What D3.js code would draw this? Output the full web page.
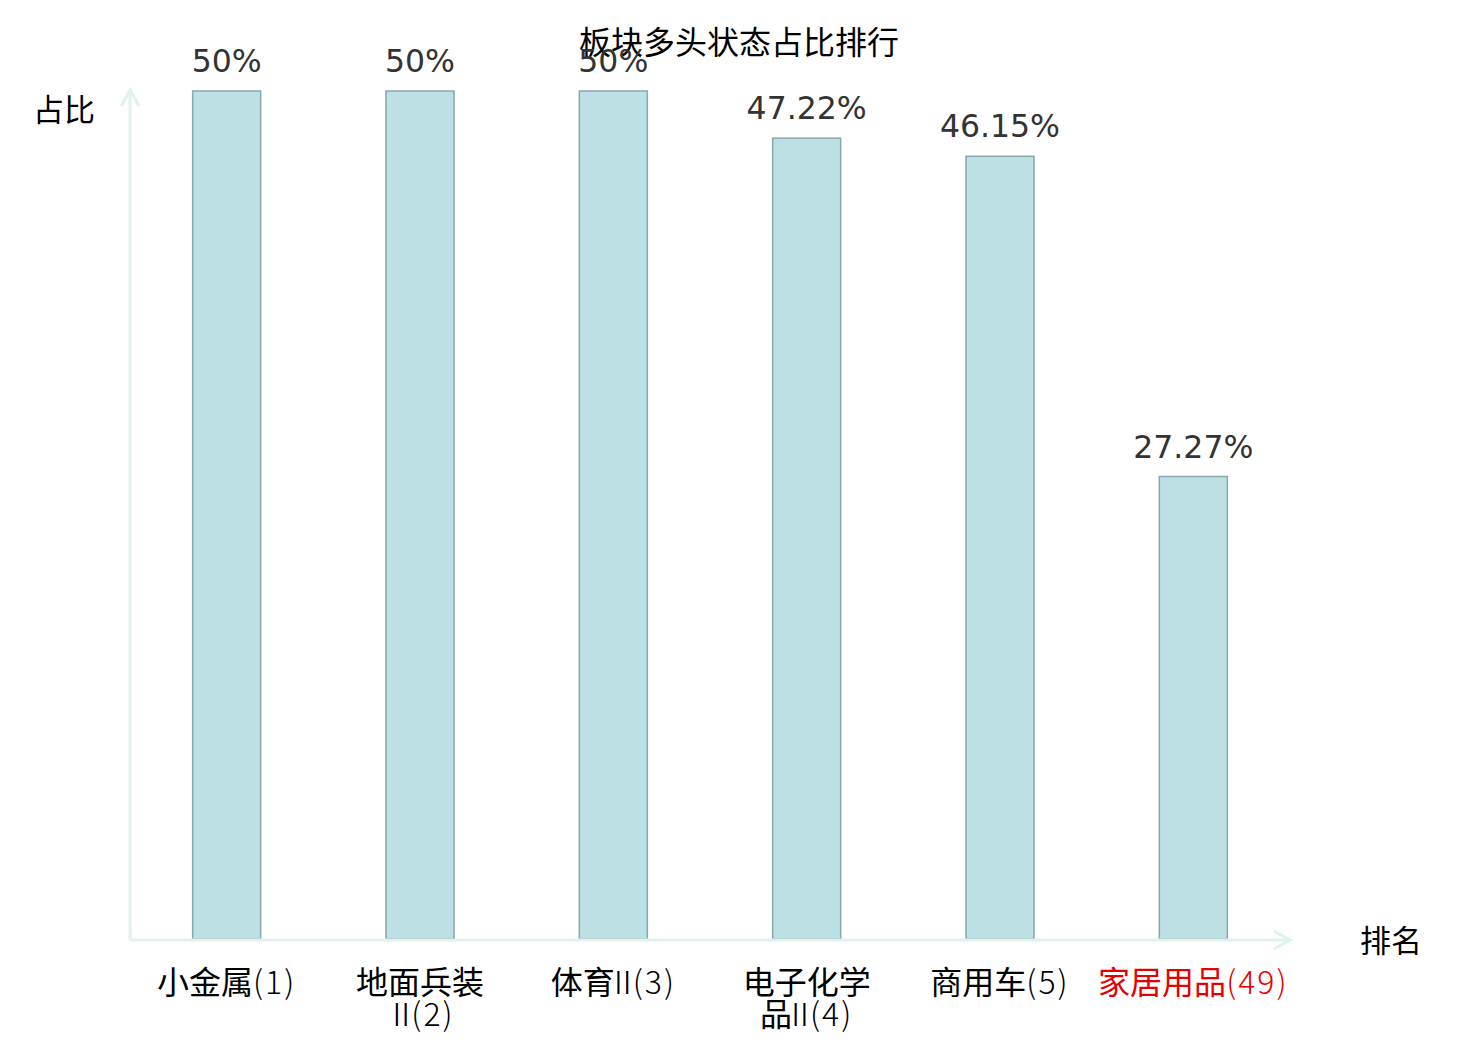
<!DOCTYPE html>
<html>
<head>
<meta charset="utf-8">
<title>板块多头状态占比排行</title>
<style>
body{ margin:0; background:#fff; }
#chart{ display:block; }
.axis-line{ stroke:#dff2ef; stroke-width:3; fill:none; }
.bar{ fill:#bce0e3; stroke:#88a8a9; stroke-width:1.5; }
.value{ font-family:"DejaVu Sans", sans-serif; font-size:31.5px; fill:#333; text-anchor:middle; }
.cat{ font-family:"Noto Sans CJK SC", sans-serif; font-size:32px; fill:#000; text-anchor:middle; }
.cat .thin{ font-weight:300; letter-spacing:2px; }
.cat .roman{ font-weight:300; letter-spacing:-6px; }
.cat.hl{ fill:#e60000; }
.title{ font-family:"Noto Sans CJK SC", sans-serif; font-size:32px; fill:#000; text-anchor:middle; }
.name{ font-family:"Noto Sans CJK SC", sans-serif; font-size:31px; fill:#000; }
</style>
</head>
<body>
<svg id="chart"></svg>
<script src="https://d3js.org/d3.v7.min.js"></script>
<script>
var names = ["小金属", "地面兵装Ⅱ", "体育Ⅱ", "电子化学品Ⅱ", "商用车", "家居用品"];
var ranks = [1, 2, 3, 4, 5, 49];
var values = [50, 50, 50, 47.22, 46.15, 27.27];
var valueLabels = ["50%", "50%", "50%", "47.22%", "46.15%", "27.27%"];
var highlight = "家居用品";

var W = 1480, H = 1040;
var x0 = 130, x1 = 1290, yTop = 91, yBase = 939;

var svg = d3.select("#chart").attr("width", W).attr("height", H);

var xscale = d3.scaleBand()
    .domain(names)
    .range([x0, x1]);
var yscale = d3.scaleLinear()
    .domain([0, d3.max(values)])
    .range([yBase, yTop]);

var data = names.map(function(n, i){
    return { name: n, rank: ranks[i], value: values[i], label: valueLabels[i] };
});

// title
svg.append("text").attr("class", "title")
    .attr("x", 739).attr("y", 54)
    .text("板块多头状态占比排行");

// bars
var bw = 68;
svg.selectAll("rect.bar")
    .data(data)
    .enter()
    .append("rect")
    .attr("class", "bar")
    .attr("x", function(d){ return xscale(d.name) + xscale.bandwidth()/2 - bw/2; })
    .attr("y", function(d){ return yscale(d.value); })
    .attr("width", bw)
    .attr("height", function(d){ return yscale(0) - yscale(d.value); });

svg.selectAll("text.value")
    .data(data)
    .enter()
    .append("text")
    .attr("class", "value")
    .attr("x", function(d){ return xscale(d.name) + xscale.bandwidth()/2; })
    .attr("y", function(d){ return yscale(d.value) - 19; })
    .text(function(d){ return d.label; });

// axes with arrows
svg.append("line").attr("class", "axis-line")
    .attr("x1", x0).attr("y1", yBase + 1).attr("x2", x0).attr("y2", 89);
svg.append("path").attr("class", "axis-line")
    .attr("d", "M" + (x0 - 9) + ",106 L" + x0 + ",90 L" + (x0 + 9) + ",106");
svg.append("line").attr("class", "axis-line")
    .attr("x1", x0).attr("y1", yBase + 1).attr("x2", x1).attr("y2", yBase + 1);
svg.append("path").attr("class", "axis-line")
    .attr("d", "M" + (x1 - 16) + "," + (yBase - 8) + " L" + x1 + "," + (yBase + 1) + " L" + (x1 - 16) + "," + (yBase + 10));

svg.append("text").attr("class", "name")
    .attr("x", 33).attr("y", 121).text("占比");
svg.append("text").attr("class", "name")
    .attr("x", 1360).attr("y", 952).text("排名");

// category labels, names broken every 4 characters
function splitName(d){
    var s = d.name, lines = [];
    for (var i = 0; i < s.length; i += 4) lines.push(s.slice(i, i + 4));
    lines[lines.length - 1] += "(" + d.rank + ")";
    return lines;
}
var cjk = /[\u4e00-\u9fff]/;
svg.selectAll("text.cat")
    .data(data)
    .enter()
    .append("text")
    .attr("class", function(d){ return d.name == highlight ? "cat hl" : "cat"; })
    .attr("x", function(d){ return xscale(d.name) + xscale.bandwidth()/2; })
    .attr("y", 994)
    .each(function(d){
        var t = d3.select(this), cx = t.attr("x");
        splitName(d).forEach(function(line, i){
            // runs: CJK characters / roman numeral / the rest
            var runs = line.match(/[\u4e00-\u9fff]+|Ⅱ|[^\u4e00-\u9fffⅡ]+/g);
            runs.forEach(function(r, j){
                var ts = t.append("tspan").text(r);
                if (r == "Ⅱ") ts.attr("class", "roman").attr("dx", j == 0 ? 0 : -8);
                else if (!cjk.test(r)) ts.attr("class", "thin");
                if (j == 0) ts.attr("x", cx).attr("dy", i == 0 ? 0 : 32);
            });
        });
    });
</script>
</body>
</html>
